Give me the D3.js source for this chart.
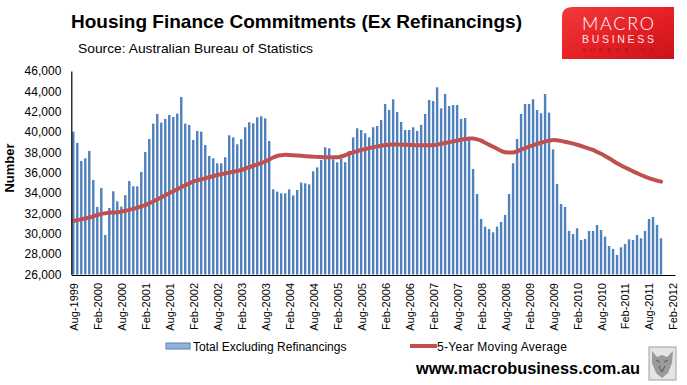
<!DOCTYPE html>
<html>
<head>
<meta charset="utf-8">
<script src="https://cdn.jsdelivr.net/npm/d3@7"></script>
<style>
  html, body { margin: 0; padding: 0; background: #fff; }
  svg { display: block; font-family: "Liberation Sans", Arial, sans-serif; }
</style>
</head>
<body>
<svg id="chart" width="687" height="385"></svg>
<script>
// ---------- DATA ----------
const startMonth = 7, startYear = 1999;   // Aug-1999
const monthNames = ["Jan","Feb","Mar","Apr","May","Jun","Jul","Aug","Sep","Oct","Nov","Dec"];

// Total Excluding Refinancings (monthly, Aug-1999 .. Nov-2011)
const totalExRefi = [
  40040, 38930, 37160, 37420, 38140, 35290, 32640, 34500, 29880, 32540, 34180, 33190,
  32670, 33800, 35190, 34670, 34670, 36080, 38040, 39320, 40830, 41780, 40930, 41290,
  41680, 41480, 41810, 43450, 40830, 40700, 39220, 40110, 40040, 38730, 37650, 37420,
  36930, 36930, 37520, 39680, 39480, 38800, 39290, 40470, 40960, 40860, 41450, 41550,
  41350, 39120, 34370, 34140, 33980, 33980, 34370, 33780, 34310, 35030, 34960, 34860,
  36140, 36530, 37260, 38500, 38400, 37320, 37030, 37390, 37030, 38140, 39480, 40370,
  40200, 39880, 39480, 40470, 40600, 41190, 42760, 42170, 43220, 41970, 40990, 40200,
  40200, 40470, 40110, 40700, 41780, 43150, 43050, 44400, 42330, 43740, 42560, 42660,
  42660, 41290, 41380, 39220, 36370, 33910, 31460, 30700, 30470, 30150, 30700, 31160,
  31850, 33910, 36930, 39320, 41780, 42760, 42760, 43220, 42170, 41840, 43740, 41910,
  38300, 34900, 32930, 32640, 30280, 29980, 30540, 29390, 29490, 30280, 30280, 30870,
  30370, 29720, 28800, 28510, 27920, 28670, 29000, 29460, 29390, 29880, 29560, 30280,
  31460, 31650, 30870, 29560
];

// 5-Year Moving Average (monthly, same months)
const movingAvg5y = [
  31250, 31350, 31420, 31500, 31600, 31720, 31850, 31950, 32020, 32080, 32100, 32120,
  32180, 32260, 32350, 32450, 32560, 32690, 32830, 33000, 33180, 33380, 33580, 33780,
  33980, 34180, 34380, 34580, 34760, 34950, 35130, 35250, 35360, 35460, 35560, 35670,
  35780, 35860, 35940, 36020, 36100, 36180, 36270, 36400, 36540, 36680, 36820, 36950,
  37090, 37300, 37500, 37650, 37720, 37760, 37750, 37720, 37690, 37660, 37630, 37600,
  37580, 37560, 37540, 37530, 37520, 37520, 37520, 37600, 37720, 37880, 38000, 38120,
  38240, 38330, 38420, 38510, 38590, 38660, 38730, 38760, 38770, 38770, 38760, 38750,
  38730, 38720, 38710, 38700, 38700, 38700, 38700, 38760, 38840, 38920, 39000, 39080,
  39160, 39240, 39310, 39360, 39360, 39280, 39150, 38950, 38750, 38550, 38350, 38150,
  38020, 37980, 38000, 38100, 38280, 38420, 38560, 38700, 38830, 38950, 39060, 39160,
  39220, 39200, 39130, 39050, 38960, 38860, 38750, 38630, 38500, 38370, 38240, 38050,
  37860, 37650, 37420, 37180, 36930, 36720, 36520, 36330, 36140, 35960, 35780, 35620,
  35480, 35340, 35220, 35130
];

const tickLabels = [
  "Aug-1999","Feb-2000","Aug-2000","Feb-2001","Aug-2001","Feb-2002","Aug-2002",
  "Feb-2003","Aug-2003","Feb-2004","Aug-2004","Feb-2005","Aug-2005","Feb-2006",
  "Aug-2006","Feb-2007","Aug-2007","Feb-2008","Aug-2008","Feb-2009","Aug-2009",
  "Feb-2010","Aug-2010","Feb-2011","Aug-2011","Feb-2012"
];
const yTicks = [26000, 28000, 30000, 32000, 34000, 36000, 38000, 40000, 42000, 44000, 46000];

// categories: every month on the axis (Aug-1999 .. Feb-2012)
const axisMonthCount = 151;
const categories = [];
for (let k = 0; k < axisMonthCount; k++) {
  const m = (startMonth + k) % 12;
  const yr = startYear + Math.floor((startMonth + k) / 12);
  categories.push(monthNames[m] + "-" + yr);
}

// ---------- CHART ----------
const svg = d3.select("#chart");
const FONT = '"Liberation Sans", Arial, sans-serif';

const x = d3.scalePoint().domain(categories).range([71.3, 675]).padding(0.5);
const y = d3.scaleLinear().domain([26000, 46000]).range([274.5, 71]);
const barW = 2.4;

// bars
svg.append("g").selectAll("rect")
  .data(totalExRefi)
  .join("rect")
  .attr("x", (d, i) => x(categories[i]) - barW / 2)
  .attr("y", d => y(d))
  .attr("width", barW)
  .attr("height", d => y(26000) - y(d))
  .attr("fill", "#4F81BD");

// moving average line
const line = d3.line()
  .x((d, i) => x(categories[i]))
  .y(d => y(d))
  .curve(d3.curveMonotoneX);
svg.append("path")
  .datum(movingAvg5y)
  .attr("d", line)
  .attr("fill", "none")
  .attr("stroke", "#C0504D")
  .attr("stroke-width", 4)
  .attr("stroke-linecap", "round")
  .attr("stroke-linejoin", "round");

// y axis
const yAxis = svg.append("g")
  .attr("transform", "translate(71.3,0)")
  .call(d3.axisLeft(y).tickValues(yTicks).tickSize(0).tickSizeOuter(0).tickPadding(10).tickFormat(d3.format(",")));
yAxis.select(".domain").attr("stroke", "#000").attr("stroke-width", 1.2);
yAxis.selectAll("text").attr("font-family", FONT).attr("font-size", 12).attr("fill", "#000");

// x axis
const xAxis = svg.append("g")
  .attr("transform", "translate(0,275)")
  .call(d3.axisBottom(x).tickValues(tickLabels).tickSize(0).tickSizeOuter(0));
xAxis.select(".domain").attr("stroke", "#000").attr("stroke-width", 1.2);
xAxis.selectAll("text")
  .attr("font-family", FONT).attr("font-size", 11).attr("fill", "#000")
  .attr("text-anchor", "end")
  .attr("transform", "rotate(-90)")
  .attr("x", -8).attr("y", 0).attr("dy", "0.36em");

// y axis title
svg.append("text")
  .attr("transform", "translate(14,168) rotate(-90)")
  .attr("text-anchor", "middle")
  .attr("font-family", FONT).attr("font-weight", "bold").attr("font-size", 13)
  .text("Number");

// title
svg.append("text")
  .attr("x", 71).attr("y", 28)
  .attr("font-family", FONT).attr("font-weight", "bold").attr("font-size", 19)
  .attr("textLength", 451).attr("lengthAdjust", "spacingAndGlyphs")
  .text("Housing Finance Commitments (Ex Refinancings)");

svg.append("text")
  .attr("x", 78).attr("y", 53)
  .attr("font-family", FONT).attr("font-size", 13.5)
  .attr("textLength", 235).attr("lengthAdjust", "spacingAndGlyphs")
  .text("Source: Australian  Bureau of Statistics");

// legend
const lg = svg.append("g");
lg.append("rect").attr("x", 166).attr("y", 343).attr("width", 24).attr("height", 6)
  .attr("fill", "#95B3D7").attr("stroke", "#4F81BD").attr("stroke-width", 1);
lg.append("text").attr("x", 193).attr("y", 350.5)
  .attr("font-family", FONT).attr("font-size", 12).text("Total Excluding Refinancings");
lg.append("line").attr("x1", 410).attr("x2", 437).attr("y1", 346).attr("y2", 346)
  .attr("stroke", "#C0504D").attr("stroke-width", 4);
lg.append("text").attr("x", 437).attr("y", 350.5)
  .attr("font-family", FONT).attr("font-size", 12)
  .attr("textLength", 130).attr("lengthAdjust", "spacing")
  .text("5-Year Moving Average");

// footer url
svg.append("text")
  .attr("x", 416).attr("y", 374)
  .attr("font-family", FONT).attr("font-weight", "bold").attr("font-size", 16)
  .attr("textLength", 224).attr("lengthAdjust", "spacingAndGlyphs")
  .text("www.macrobusiness.com.au");

// wolf picture placeholder
const wolf = svg.append("g");
wolf.append("rect").attr("x", 649).attr("y", 347).attr("width", 27).attr("height", 33)
  .attr("fill", "#e4e4e4").attr("stroke", "#a0a0a0");
wolf.append("path")
  .attr("d", "M652,351 L657,357 L662,355 L667,357 L673,351 L672,363 L668,373 L662,378 L656,373 L652,363 Z")
  .attr("fill", "#9a9a9a");
wolf.append("path")
  .attr("d", "M656,360 L660,362 M664,362 L668,360 M659,366 L662,372 L665,366")
  .attr("stroke", "#555").attr("stroke-width", 1).attr("fill", "none");

// logo
const defs = svg.append("defs");
const grad = defs.append("linearGradient").attr("id", "logoGrad")
  .attr("x1", "0").attr("y1", "0").attr("x2", "1").attr("y2", "1");
grad.append("stop").attr("offset", "0%").attr("stop-color", "#f23a3a");
grad.append("stop").attr("offset", "55%").attr("stop-color", "#e41f25");
grad.append("stop").attr("offset", "100%").attr("stop-color", "#c8141a");
const logo = svg.append("g");
logo.append("path")
  .attr("d", "M572,7 L674,7 L674,59 L562,59 L562,17 Q562,7 572,7 Z")
  .attr("fill", "url(#logoGrad)");
logo.append("text").attr("x", 618).attr("y", 30).attr("text-anchor", "middle")
  .attr("font-family", "Lato, 'Open Sans', sans-serif").attr("font-weight", 300)
  .attr("font-size", 18).attr("fill", "#fff")
  .attr("textLength", 72).attr("lengthAdjust", "spacing")
  .text("MACRO");
logo.append("text").attr("x", 618).attr("y", 43).attr("text-anchor", "middle")
  .attr("font-family", FONT).attr("font-size", 10.5).attr("fill", "#fbe3e3")
  .attr("textLength", 72).attr("lengthAdjust", "spacing")
  .text("BUSINESS");
logo.append("text").attr("x", 618).attr("y", 52).attr("text-anchor", "middle")
  .attr("font-family", FONT).attr("font-size", 6).attr("fill", "#a8141a")
  .attr("textLength", 72).attr("lengthAdjust", "spacing")
  .text("SUPERBLOG");
</script>
</body>
</html>
